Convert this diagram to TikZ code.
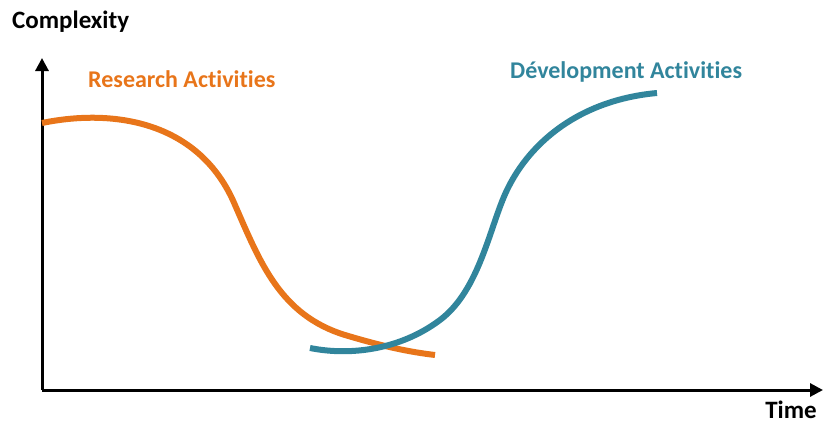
\documentclass[tikz,border=0pt]{standalone}
\usepackage{fontspec}
\setmainfont[Ligatures=NoCommon]{Carlito}
\usetikzlibrary{arrows.meta}
\definecolor{orangec}{HTML}{E8751A}
\definecolor{tealc}{HTML}{31859C}
\begin{document}
\begin{tikzpicture}[x=1pt,y=-1pt,
  axis/.style={line width=3pt,-{Triangle[length=13pt,width=13pt]}},
  curve/.style={line width=6pt},
  lbl/.style={font=\bfseries\fontsize{25}{30}\selectfont,inner sep=0pt},
  clbl/.style={font=\bfseries\fontsize{24}{28}\selectfont,inner sep=0pt}]
\useasboundingbox (0,0) rectangle (823,426);
\coordinate (o) at (42,390);
\coordinate (ytip) at (42,58);
\coordinate (xtip) at (823,390);
\draw[axis] (o) -- (ytip);
\draw[axis] (o) -- (xtip);
\node[lbl,anchor=west] (cx) at (12,22) {Complexity};
\node[lbl,anchor=east] (tm) at (817,410) {Time};
\node[clbl,anchor=west,text=orangec] (ra) at (88,79) {Research Activities};
\node[clbl,anchor=west,text=tealc] (da) at (510,72) {Dévelopment Activities};
\draw[curve,orangec] (42,123) .. controls (115,108) and (200,122) .. (235,205)
  .. controls (260,262) and (280,315) .. (345,335)
  .. controls (385,347) and (410,352) .. (435,355);
\draw[curve,tealc] (310,348) .. controls (350,356) and (400,350) .. (440,320)
  .. controls (480,290) and (490,225) .. (507,190)
  .. controls (530,142) and (580,100) .. (657,93);
\end{tikzpicture}
\end{document}
